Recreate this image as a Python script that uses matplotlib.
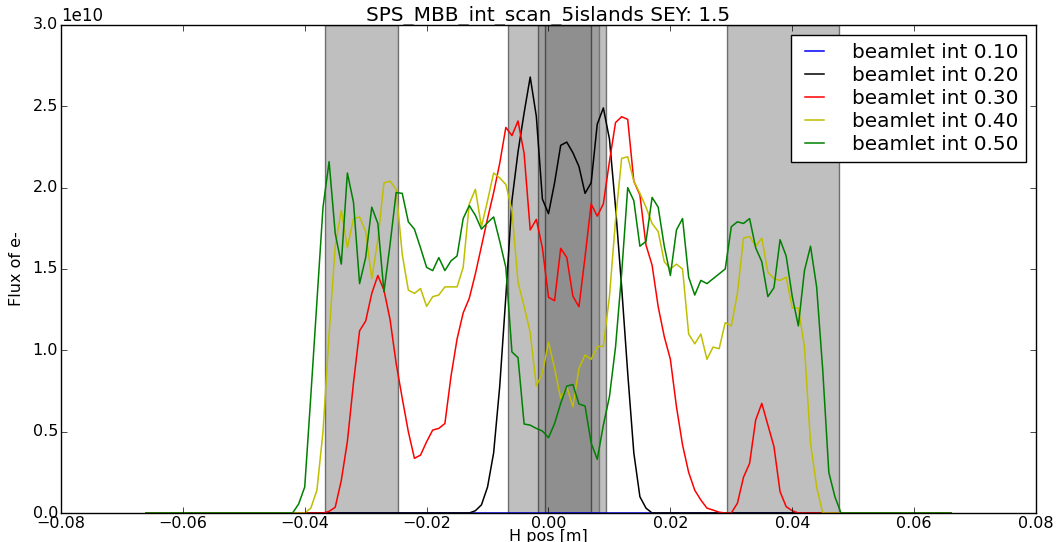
import numpy as np
import matplotlib
matplotlib.use('Agg')
import matplotlib.pyplot as plt

### Datos (flujo en unidades de 1e10)

# Malla de posicion horizontal [mm]
h_pos_mm = np.arange(-66, 67)

# Cada serie: primer punto en mm y valores siguientes (fuera de ahi es cero)
int020_start = -13
int020 = [0.0, 0.014, 0.05, 0.16, 0.37, 0.78, 1.33, 1.92, 2.22, 2.46, 2.68, 2.44,
          1.93, 1.84, 2.03, 2.26, 2.28, 2.215, 2.13, 1.965, 2.03, 2.39, 2.49, 2.30,
          1.88, 1.39, 0.86, 0.37, 0.10, 0.03, 0.0]

int030_start = -37
int030 = [0.0, 0.01, 0.035, 0.20, 0.44, 0.80, 1.12, 1.18, 1.35, 1.46, 1.37, 1.19,
          0.92, 0.705, 0.50, 0.336, 0.356, 0.438, 0.51, 0.52, 0.55, 0.84, 1.07, 1.23,
          1.32, 1.47, 1.64, 1.81, 1.97, 2.15, 2.37, 2.32, 2.41, 2.21, 1.74, 1.805,
          1.63, 1.326, 1.305, 1.627, 1.571, 1.333, 1.268, 1.575, 1.90, 1.825, 1.90,
          2.16, 2.40, 2.436, 2.42, 2.04, 1.955, 1.647, 1.524, 1.268, 1.084, 0.945,
          0.653, 0.418, 0.25, 0.14, 0.08, 0.03, 0.018, 0.005, 0.0, 0.0, 0.06, 0.22,
          0.305, 0.572, 0.674, 0.541, 0.408, 0.131, 0.039, 0.014, 0.0]

int040_start = -40
int040 = [0.0, 0.03, 0.14, 0.50, 1.10, 1.64, 1.86, 1.63, 1.81, 1.82, 1.73, 1.44,
          1.68, 2.03, 2.04, 1.99, 1.59, 1.37, 1.35, 1.38, 1.27, 1.33, 1.34, 1.39,
          1.39, 1.39, 1.51, 1.90, 1.99, 1.76, 1.92, 2.09, 2.06, 2.02, 1.86, 1.42,
          1.27, 1.11, 0.78, 0.86, 1.05, 0.89, 0.705, 0.776, 0.653, 0.889, 0.971,
          0.945, 1.022, 1.026, 1.33, 1.80, 2.18, 2.19, 2.04, 1.965, 1.88, 1.78, 1.73,
          1.545, 1.50, 1.53, 1.50, 1.10, 1.04, 1.10, 0.945, 1.02, 1.01, 1.17, 1.15,
          1.35, 1.69, 1.70, 1.64, 1.69, 1.48, 1.44, 1.43, 1.45, 1.26, 1.26, 1.02,
          0.43, 0.16, 0.0]

int050_start = -42
int050 = [0.0, 0.055, 0.16, 0.72, 1.30, 1.88, 2.16, 1.72, 1.53, 2.09, 1.91, 1.41,
          1.57, 1.88, 1.78, 1.36, 1.65, 1.97, 1.965, 1.79, 1.745, 1.63, 1.51, 1.49,
          1.57, 1.49, 1.55, 1.58, 1.81, 1.89, 1.83, 1.745, 1.785, 1.82, 1.67, 1.51,
          0.99, 0.955, 0.547, 0.54, 0.52, 0.504, 0.463, 0.55, 0.674, 0.78, 0.79, 0.67,
          0.658, 0.43, 0.33, 0.54, 0.715, 1.02, 1.47, 2.00, 1.92, 1.64, 1.67, 1.94,
          1.88, 1.64, 1.46, 1.74, 1.81, 1.45, 1.34, 1.43, 1.41, 1.44, 1.47, 1.50,
          1.76, 1.79, 1.78, 1.81, 1.63, 1.545, 1.33, 1.385, 1.68, 1.58, 1.33, 1.15,
          1.49, 1.64, 1.39, 0.88, 0.25, 0.10, 0.0]

labels = ['beamlet int 0.10', 'beamlet int 0.20', 'beamlet int 0.30',
          'beamlet int 0.40', 'beamlet int 0.50']
colores = ['b', 'k', 'r', 'y', 'g']

# Zonas sombreadas (islas) [m]
islas_ini = [-0.0366, -0.00665, -0.00167, -0.00053, 0.0293]
islas_fin = [-0.02465, 0.00829, 0.00939, 0.00692, 0.0476]


# Función para completar la serie con ceros en toda la malla
def serie_completa(inicio, valores):
    y = np.zeros(len(h_pos_mm))
    i = inicio - h_pos_mm[0]
    y[i:i + len(valores)] = valores
    return y * 1e10


h_pos = h_pos_mm / 1000.
series = [np.zeros(len(h_pos_mm)),
          serie_completa(int020_start, int020),
          serie_completa(int030_start, int030),
          serie_completa(int040_start, int040),
          serie_completa(int050_start, int050)]

### Ploteo
plt.style.use('classic')
plt.rcParams['font.family'] = ['DejaVu Sans']

fig = plt.figure(figsize=(10.64, 5.42), dpi=100)
fig.subplots_adjust(left=0.0573, right=0.9737, bottom=0.0535, top=0.9539)
ax = fig.add_subplot(111)

for x0, x1 in zip(islas_ini, islas_fin):
    ax.axvspan(x0, x1, facecolor='0.5', edgecolor='k', alpha=0.5)

for y, c, lab in zip(series, colores, labels):
    ax.plot(h_pos, y, color=c, label=lab, linewidth=1.1)

ax.set_xlim(-0.08, 0.08)
ax.set_ylim(0, 3e10)
ax.tick_params(labelsize=11.5, pad=2)
ax.yaxis.get_offset_text().set_fontsize(12)
ax.set_title('SPS_MBB_int_scan_5islands SEY: 1.5', fontsize=14.4, pad=3)
ax.set_xlabel('H pos [m]', fontsize=11.5, labelpad=-1.5)
ax.set_ylabel('Flux of e-', fontsize=11.5, labelpad=6)
ax.legend(loc='upper right', fontsize=14.4, handlelength=1.55,
          handletextpad=1.1, labelspacing=0.2, borderpad=0.4)

fig.savefig('out.png', dpi=100)
